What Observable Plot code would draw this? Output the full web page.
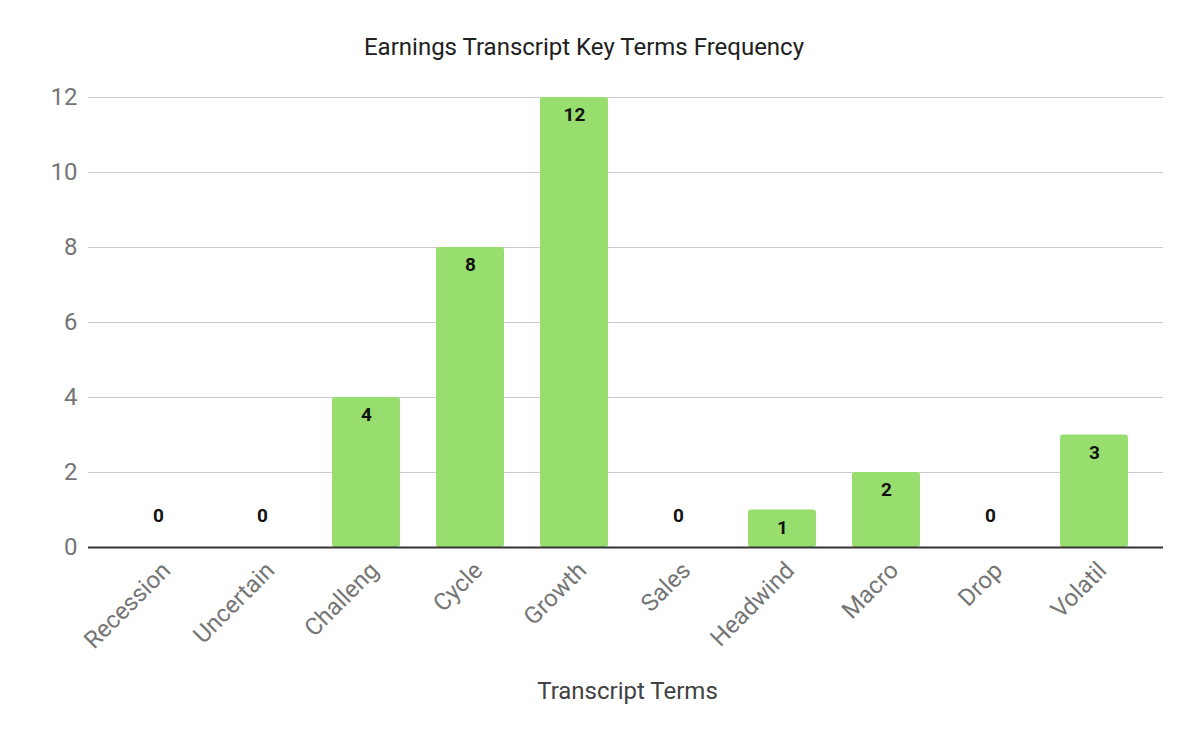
<!DOCTYPE html>
<html>
<head>
<meta charset="utf-8">
<script src="https://cdn.jsdelivr.net/npm/d3@7"></script>
<script src="https://cdn.jsdelivr.net/npm/@observablehq/plot@0.6"></script>
<style>
  html, body { margin: 0; padding: 0; background: #fff; }
  #title-wrap { position: relative; height: 80px; width: 1200px; }
  #title { position: absolute; left: 584px; top: 33px; transform: translateX(-50%);
           font: 24px Roboto, sans-serif; line-height: 28px; color: #212121; white-space: nowrap; }
  svg { display: block; }
</style>
</head>
<body>
<div id="title-wrap"><span id="title">Earnings Transcript Key Terms Frequency</span></div>
<div id="chart"></div>
<script>
const terms = ["Recession", "Uncertain", "Challeng", "Cycle", "Growth", "Sales", "Headwind", "Macro", "Drop", "Volatil"];
const counts = [0, 0, 4, 8, 12, 0, 1, 2, 0, 3];
const yTicks = [0, 2, 4, 6, 8, 10, 12];
const xTitle = "Transcript Terms";

const data = terms.map((t, i) => ({term: t, count: counts[i]}));

const chart = Plot.plot({
  width: 1200,
  height: 661,
  marginLeft: 88,
  marginRight: 37,
  marginTop: 17,
  marginBottom: 194,
  style: {fontFamily: "Roboto, sans-serif", background: "#fff"},
  x: {type: "band", domain: terms, range: [106, 1146], paddingInner: 0.346, paddingOuter: 0.173},
  y: {domain: [0, 12], range: [467, 17]},
  marks: [
    Plot.ruleY(yTicks.filter(d => d !== 0), {stroke: "#cccccc", strokeWidth: 1}),
    Plot.barY(data, {x: "term", y: "count", fill: "#98de6f", rx: 3}),
    Plot.ruleY([0], {stroke: "#333333", strokeWidth: 2}),
    Plot.axisY({ticks: yTicks, tickSize: 0, tickPadding: 11, fontSize: 24, color: "#757575", label: null, tickFormat: d => String(d)}),
    Plot.axisX({tickRotate: -45, tickSize: 0, tickPadding: 19, dx: 8, fontSize: 24, color: "#757575", label: null}),
    Plot.text(data, {filter: d => d.count > 0, x: "term", y: "count", text: d => String(d.count), dy: 17.5, fontSize: 19, fontWeight: "bold", fill: "#111"}),
    Plot.text(data, {filter: d => d.count === 0, x: "term", y: "count", text: d => String(d.count), dy: -32, fontSize: 19, fontWeight: "bold", fill: "#111"}),
    Plot.text([xTitle], {frameAnchor: "bottom", dy: 144, dx: 1.5, fontSize: 24, fill: "#424242", lineAnchor: "middle"})
  ]
});
document.getElementById("chart").appendChild(chart);
</script>
</body>
</html>
